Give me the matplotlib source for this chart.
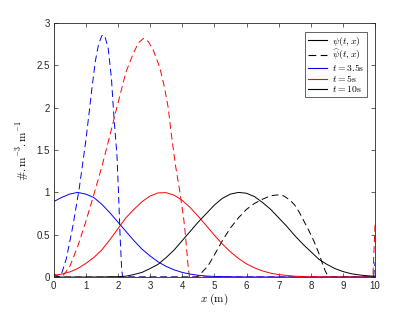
import numpy as np
import matplotlib
matplotlib.use('Agg')
import matplotlib.pyplot as plt
from matplotlib.lines import Line2D

plt.rcParams['mathtext.fontset'] = 'cm'
plt.rcParams['font.family'] = ['Liberation Sans', 'DejaVu Sans']

#%% values

# solid curves psi(t,x)
xBlue = [0, 0.25, 0.5, 0.75, 1.0, 1.25, 1.5, 1.75, 2.0, 2.25, 2.5, 2.75, 3.0,
         3.25, 3.5, 3.75, 4.0, 4.25, 4.5, 4.75, 5.0, 5.5, 6.0, 7.0, 8.0, 9.0, 10.0]
yBlue = [0.89, 0.94, 0.98, 1.0, 0.98, 0.94, 0.86, 0.76, 0.65, 0.54, 0.43, 0.33, 0.25,
         0.18, 0.126, 0.085, 0.055, 0.035, 0.021, 0.012, 0.007, 0.003, 0.001, 0, 0, 0, 0]

xRed = [0, 0.25, 0.5, 0.75, 1.0, 1.25, 1.5, 1.75, 2.0, 2.25, 2.5, 2.75, 3.0, 3.25,
        3.5, 3.75, 4.0, 4.25, 4.5, 4.75, 5.0, 5.25, 5.5, 5.75, 6.0, 6.25, 6.5,
        6.75, 7.0, 7.5, 8.0, 9.0, 10.0]
yRed = [0.02, 0.035, 0.06, 0.10, 0.16, 0.23, 0.32, 0.44, 0.57, 0.70, 0.80, 0.89, 0.957, 0.994,
        0.997, 0.967, 0.906, 0.82, 0.717, 0.607, 0.495, 0.39, 0.298, 0.22, 0.156, 0.108, 0.072,
        0.046, 0.029, 0.01, 0.003, 0, 0]

xBlack = [0, 1.0, 1.5, 2.0, 2.25, 2.5, 2.75, 3.0, 3.25, 3.5, 3.75, 4.0, 4.25, 4.5, 4.75,
          5.0, 5.25, 5.5, 5.75, 6.0, 6.25, 6.5, 6.75, 7.0, 7.25, 7.5, 7.75, 8.0, 8.25,
          8.5, 8.75, 9.0, 9.25, 9.5, 9.75, 10.0]
yBlack = [0, 0, 0.001, 0.005, 0.01, 0.03, 0.055, 0.10, 0.15, 0.23, 0.32, 0.43, 0.54, 0.65, 0.75,
          0.85, 0.93, 0.98, 1.0, 0.99, 0.95, 0.88, 0.80, 0.70, 0.60, 0.49, 0.39, 0.30, 0.21,
          0.15, 0.10, 0.065, 0.04, 0.025, 0.015, 0.01]

# dashed curves psi_hat(t,x)
xBlueHat = [0, 0.15, 0.25, 0.4, 0.6, 0.8, 1.0, 1.1, 1.2, 1.3, 1.4, 1.5, 1.55, 1.6, 1.7,
            1.8, 1.85, 1.9, 1.97, 2.02, 2.07, 2.12, 2.15, 5.0, 9.95, 10.0]
yBlueHat = [0.03, 0.0, 0.04, 0.22, 0.6, 1.05, 1.6, 1.92, 2.25, 2.55, 2.75, 2.85, 2.86, 2.84, 2.70,
            2.35, 2.05, 1.78, 1.45, 1.0, 0.48, 0.08, 0.0, 0.0, 0.0, 0.18]

xRedHat = [0, 0.2, 0.3, 0.5, 0.75, 1.0, 1.25, 1.5, 1.75, 2.0, 2.25, 2.5, 2.65, 2.8, 2.95,
           3.1, 3.3, 3.45, 3.57, 3.65, 3.8, 3.93, 4.05, 4.1, 4.19, 4.23, 7.0, 9.93, 10.0]
yRedHat = [0.04, 0.0, 0.02, 0.12, 0.36, 0.65, 0.97, 1.3, 1.67, 2.05, 2.42, 2.66, 2.77, 2.82, 2.78,
           2.68, 2.48, 2.24, 1.99, 1.72, 1.3, 1.0, 0.68, 0.5, 0.1, 0.0, 0.0, 0.0, 0.65]

xBlackHat = [0, 4.45, 4.6, 4.8, 5.0, 5.25, 5.5, 5.75, 6.0, 6.25, 6.5, 6.75, 6.95, 7.15, 7.35,
             7.5, 7.65, 7.8, 7.95, 8.1, 8.25, 8.35, 8.45, 8.55, 10.0]
yBlackHat = [0, 0, 0.05, 0.13, 0.26, 0.43, 0.58, 0.70, 0.80, 0.87, 0.92, 0.96, 0.97, 0.96, 0.91,
             0.85, 0.76, 0.65, 0.54, 0.42, 0.28, 0.17, 0.07, 0.0, 0.0]

legendLabels = [r'$\psi(t,x)$', r'$\widehat{\psi}(t,x)$',
                r'$t = 3.5\mathrm{s}$', r'$t = 5\mathrm{s}$', r'$t = 10\mathrm{s}$']

#%% plot

fig = plt.figure(figsize=(4.15, 3.12), dpi=100)
ax = fig.add_axes([0.129, 0.112, 0.775, 0.814])

lw = 0.7
dash = (7, 4)
ax.plot(xBlueHat, yBlueHat, color='b', lw=lw, dashes=dash)
ax.plot(xRedHat, yRedHat, color='r', lw=lw, dashes=dash)
ax.plot(xBlackHat, yBlackHat, color='k', lw=lw, dashes=dash)
ax.plot(xBlue, yBlue, color='b', lw=lw)
ax.plot(xRed, yRed, color='r', lw=lw)
ax.plot(xBlack, yBlack, color='k', lw=lw)

ax.set_xlim(0, 10)
ax.set_ylim(0, 3)
ax.set_xticks(np.arange(0, 11, 1))
ax.set_yticks(np.arange(0, 3.01, 0.5))
ax.set_yticklabels(['0', '0.5', '1', '1.5', '2', '2.5', '3'])
ax.tick_params(direction='in', top=True, right=True, labelsize=7,
               length=3, width=0.5, colors='0.15', pad=2.5)
for s in ax.spines.values():
    s.set_linewidth(0.6)
    s.set_color('0.15')

ax.set_xlabel(r'$x\ \mathrm{(m)}$', fontsize=8, labelpad=1)
ax.set_ylabel(r'$\#.\mathrm{m}^{-3}.\mathrm{m}^{-1}$', fontsize=8, labelpad=4)

handles = [Line2D([], [], color='k', lw=0.8),
           Line2D([], [], color='k', lw=0.8, dashes=dash),
           Line2D([], [], color='b', lw=0.8),
           Line2D([], [], color='r', lw=0.8),
           Line2D([], [], color='k', lw=0.8)]
leg = ax.legend(handles, legendLabels, loc='upper right', bbox_to_anchor=(0.976, 0.966),
                borderaxespad=0, fontsize=7, handlelength=2.0, labelspacing=0.0,
                handletextpad=0.5, borderpad=0.3, fancybox=False, framealpha=1)
leg.get_frame().set_edgecolor('0.15')
leg.get_frame().set_linewidth(0.5)

fig.savefig('out.png', dpi=100)
